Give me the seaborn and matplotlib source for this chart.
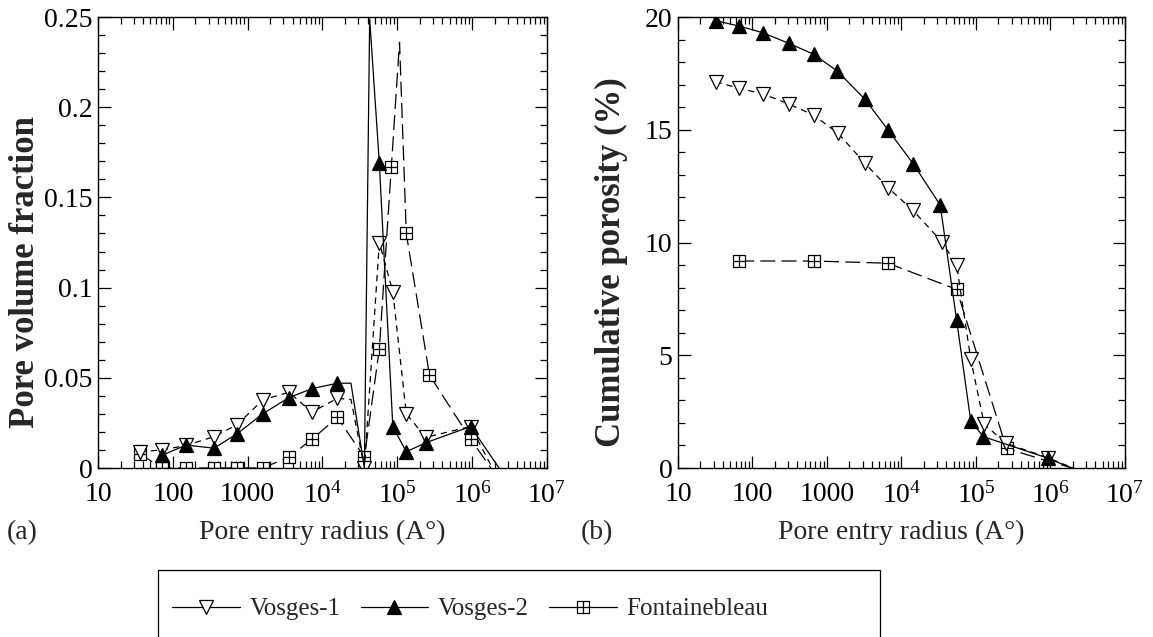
import matplotlib
matplotlib.use("Agg")
import matplotlib.pyplot as plt
from matplotlib.path import Path
from matplotlib.lines import Line2D
from matplotlib.patches import Rectangle
from matplotlib.ticker import FixedLocator, FixedFormatter, LogLocator, MultipleLocator, NullFormatter
import pandas as pd
import seaborn as sns

# (a) pore volume fraction vs pore entry radius (Angstrom)
v1_r_a = [36, 71, 151, 355, 724, 1585, 3548, 7244, 15849, 24000, 36300, 57500, 87100, 131800, 240000, 955000, 1860000]
v1_f_a = [0.009, 0.010, 0.0125, 0.0174, 0.024, 0.0377, 0.042, 0.031, 0.0386, 0.038, 0.0, 0.125, 0.0977, 0.030, 0.017, 0.023, 0.0]

v2_r_a = [71, 151, 355, 724, 1585, 3548, 7244, 15849, 24000, 36300, 42700, 57500, 87100, 131800, 240000, 955000, 2290000]
v2_f_a = [0.007, 0.0127, 0.011, 0.019, 0.030, 0.039, 0.044, 0.047, 0.047, 0.0, 0.249, 0.169, 0.0229, 0.009, 0.014, 0.023, 0.0]

fb_r_a = [36, 71, 151, 355, 724, 1585, 3548, 7244, 15849, 36300, 57500, 83200, 107000, 131800, 269000, 955000, 1780000]
fb_f_a = [0.008, 0.0, 0.0, 0.0, 0.0, 0.0, 0.006, 0.016, 0.028, 0.006, 0.066, 0.167, 0.236, 0.130, 0.0515, 0.016, 0.0]

# (b) cumulative porosity (%)
v1_r_b = [32, 66, 138, 309, 661, 1413, 3236, 6607, 14125, 34674, 55000, 85114, 128825, 251189, 933254, 2000000]
v1_p_b = [17.13, 16.84, 16.59, 16.14, 15.65, 14.84, 13.51, 12.43, 11.44, 10.04, 9.0, 4.82, 1.95, 1.1, 0.45, 0.0]

v2_r_b = [32, 66, 138, 309, 661, 1380, 3236, 6607, 14454, 33113, 55000, 85114, 125893, 933254, 1900000]
v2_p_b = [19.84, 19.6, 19.3, 18.83, 18.35, 17.6, 16.35, 14.99, 13.48, 11.66, 6.56, 2.08, 1.39, 0.43, 0.0]

fb_r_b = [66, 661, 6607, 55000, 257000, 933254, 2000000]
fb_p_b = [9.18, 9.18, 9.08, 7.92, 0.87, 0.3, 0.0]

names = ["Vosges-1", "Vosges-2", "Fontainebleau"]
x_ticks = [10, 100, 1000, 1e4, 1e5, 1e6, 1e7]
x_labels = ["10", "100", "1000", r"$\mathregular{10^4}$", r"$\mathregular{10^5}$",
            r"$\mathregular{10^6}$", r"$\mathregular{10^7}$"]

sns.set_style("ticks")
plt.rcParams["font.family"] = ["Liberation Serif", "DejaVu Serif"]
plt.rcParams["mathtext.fontset"] = "stix"

# square with a cross inside
box_plus = Path([(-1, -1), (1, -1), (1, 1), (-1, 1), (-1, -1), (0, -1), (0, 1), (-1, 0), (1, 0)],
                [Path.MOVETO, Path.LINETO, Path.LINETO, Path.LINETO, Path.CLOSEPOLY,
                 Path.MOVETO, Path.LINETO, Path.MOVETO, Path.LINETO])

styles = {
    "Vosges-1": dict(marker="v", ms=9.5, mfc="white", ls=(0, (5, 4))),
    "Vosges-2": dict(marker="^", ms=9.5, mfc="black", ls="-"),
    "Fontainebleau": dict(marker=box_plus, ms=8.5, mfc="white", ls=(0, (12, 5))),
}

fig = plt.figure(figsize=(11.53, 6.37), dpi=100)
ax1 = fig.add_axes([0.085, 0.2653, 0.3894, 0.708])
ax2 = fig.add_axes([0.588, 0.2653, 0.3877, 0.708])


def draw(ax, r, v, name, marked):
    df = pd.DataFrame({"r": r, "v": v})
    st = styles[name]
    sns.lineplot(data=df, x="r", y="v", ax=ax, estimator=None, sort=False,
                 color="black", lw=0.9, linestyle=st["ls"], marker=st["marker"],
                 markersize=st["ms"], markerfacecolor=st["mfc"], markeredgecolor="black",
                 markeredgewidth=0.9, markevery=marked)


# unmarked points are the peaks / corners of the traced curves
draw(ax1, fb_r_a, fb_f_a, "Fontainebleau", [i for i in range(len(fb_r_a)) if i not in (12, 16)])
draw(ax1, v1_r_a, v1_f_a, "Vosges-1", [i for i in range(len(v1_r_a)) if i not in (9, 16)])
draw(ax1, v2_r_a, v2_f_a, "Vosges-2", [i for i in range(len(v2_r_a)) if i not in (8, 9, 10, 16)])

draw(ax2, fb_r_b, fb_p_b, "Fontainebleau", list(range(len(fb_r_b) - 2)))
draw(ax2, v1_r_b, v1_p_b, "Vosges-1", list(range(len(v1_r_b) - 1)))
draw(ax2, v2_r_b, v2_p_b, "Vosges-2", list(range(len(v2_r_b) - 1)))

for ax in (ax1, ax2):
    ax.set_xscale("log")
    ax.set_xlim(10, 1e7)
    ax.xaxis.set_major_locator(FixedLocator(x_ticks))
    ax.xaxis.set_major_formatter(FixedFormatter(x_labels))
    ax.xaxis.set_minor_locator(LogLocator(base=10, subs=range(2, 10), numticks=20))
    ax.xaxis.set_minor_formatter(NullFormatter())
    ax.tick_params(which="both", direction="in", top=True, right=True, width=0.9,
                   labelsize=20, colors="black")
    ax.tick_params(axis="x", pad=10)
    ax.tick_params(axis="y", pad=4)
    ax.tick_params(which="major", length=9)
    ax.tick_params(which="minor", length=5)
    for s in ax.spines.values():
        s.set_linewidth(1.0)
        s.set_color("black")
    ax.set_xlabel("Pore entry radius (A\u00b0)", fontsize=20, labelpad=8)

ax1.set_ylim(0, 0.25)
ax1.set_yticks([0, 0.05, 0.1, 0.15, 0.2, 0.25])
ax1.set_yticklabels(["0", "0.05", "0.1", "0.15", "0.2", "0.25"])
ax1.yaxis.set_minor_locator(MultipleLocator(0.01))
ax1.set_ylabel("Pore volume fraction", fontsize=25, fontweight="bold")
ax1.yaxis.set_label_coords(-0.125, 0.435)

ax2.set_ylim(0, 20)
ax2.set_yticks([0, 5, 10, 15, 20])
ax2.yaxis.set_minor_locator(MultipleLocator(1))
ax2.set_ylabel("Cumulative porosity (%)", fontsize=25, fontweight="bold")
ax2.yaxis.set_label_coords(-0.112, 0.457)

fig.text(22 / 1153, 1 - 533 / 637, "(a)", fontsize=20, ha="center", va="center")
fig.text(597 / 1153, 1 - 533 / 637, "(b)", fontsize=20, ha="center", va="center")

# legend frame, cut by the bottom edge as in the original
fig.patches.append(Rectangle((158 / 1153, -0.01), 722 / 1153, 1 - 570 / 637 + 0.01,
                             transform=fig.transFigure, fill=False, edgecolor="black", lw=0.9))
handles = [Line2D([], [], color="black", lw=0.9, marker=styles[n]["marker"], ms=styles[n]["ms"],
                  mfc=styles[n]["mfc"], mec="black", mew=0.9) for n in names]
fig.legend(handles, names, loc="center left", ncol=3, frameon=False,
           bbox_to_anchor=(172 / 1153, 1 - 609 / 637), fontsize=18,
           handlelength=2.7, handletextpad=0.4, columnspacing=0.8,
           borderpad=0, borderaxespad=0)

fig.savefig("out.png", dpi=100, facecolor="white")
